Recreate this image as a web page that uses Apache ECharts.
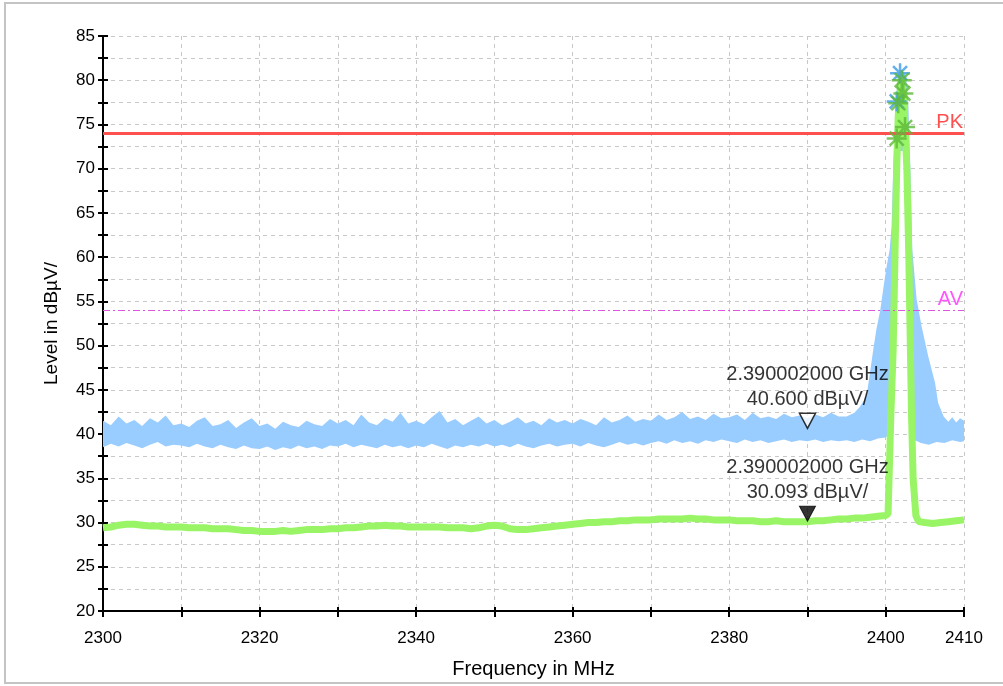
<!DOCTYPE html>
<html>
<head>
<meta charset="utf-8">
<script src="https://cdn.jsdelivr.net/npm/echarts@6/dist/echarts.min.js"></script>
<style>
  html, body { margin: 0; padding: 0; background: #fff; }
  #echart { width: 1003px; height: 686px; }
</style>
</head>
<body>
<div id="echart"></div>
<script>
// frequency grid of the flat part of the sweep, 1 MHz steps 2300..2394
const flatFreq = []
for (let f = 2300; f <= 2394; f++) flatFreq.push(f)

// peak trace (blue): upper / lower edge of the noise band
const flatUpper = [
  41.5, 41.0, 42.0, 41.2, 41.6, 40.9, 41.8, 41.3, 42.1, 41.0,
  41.2, 40.8, 41.5, 41.9, 40.9, 41.1, 41.6, 40.7, 41.3, 41.8,
  40.9, 41.2, 40.6, 41.4, 41.0, 40.8, 41.5, 41.1, 40.9, 41.7,
  41.2, 41.6, 41.0, 42.2, 41.3, 41.0, 41.8, 41.4, 42.4, 41.2,
  41.5, 41.1, 41.9, 42.6, 41.3, 41.7, 41.0, 41.5, 42.0, 41.2,
  41.6, 41.0, 41.4, 41.9, 41.2, 41.5, 41.0, 41.8, 41.3, 41.6,
  41.2, 41.7, 41.4, 41.0, 41.9, 41.3, 41.6, 42.1, 41.4, 41.7,
  41.5, 42.2, 41.6, 41.9, 42.5, 41.7, 42.0, 41.6, 42.3, 41.8,
  41.9, 42.2, 41.6, 42.4, 41.8, 42.0, 41.7, 42.3, 41.9, 42.1,
  41.8, 42.2, 41.9, 42.4, 42.0
]
const flatLower = [
  38.5, 38.9, 38.6, 39.0, 38.7, 38.4, 38.8, 39.1, 38.6, 38.8,
  38.7, 38.5, 38.9, 38.6, 38.4, 38.8, 38.5, 38.3, 38.7, 38.4,
  38.3, 38.6, 38.2, 38.5, 38.3, 38.7, 38.4, 38.6, 38.3, 38.7,
  38.6, 38.9, 38.5, 38.8, 38.6, 38.4, 38.8, 38.5, 38.7, 38.4,
  38.7, 38.5, 38.9, 38.6, 38.3, 38.7, 38.5, 38.8, 38.6, 38.9,
  38.6, 38.8, 38.5, 38.9, 38.6, 38.4, 38.7, 38.9, 38.6, 38.8,
  38.9, 38.6, 39.0, 38.7, 38.5, 38.8, 39.1, 38.8, 39.0, 38.7,
  39.0, 39.2, 38.9, 39.3, 39.0, 39.2, 38.9, 39.3, 39.1, 39.4,
  39.2, 39.0, 39.4, 39.1, 39.3, 39.0, 39.2, 39.4, 39.1, 39.3,
  39.2, 39.4, 39.1, 39.3, 39.2
]
const peakUpperFreq = [2395, 2396, 2396.7, 2397.2, 2397.6, 2398.0, 2398.4, 2398.8, 2399.3, 2399.7,
  2400.1, 2400.5, 2400.75, 2400.95, 2401.25, 2401.55, 2402.0, 2402.6, 2402.9, 2403.15,
  2403.4, 2403.95, 2404.6, 2405.45, 2406.3, 2406.7, 2407.4, 2408, 2408.5, 2409, 2409.5, 2410]
const peakUpper = [42.0, 42.4, 43.1, 43.8, 44.6, 47.0, 49.5, 51.8, 54.0, 56.5,
  58.9, 60.8, 63.5, 70.0, 76.6, 80.8, 81.2, 80.5, 77.0, 70.0,
  60.8, 55.2, 52.1, 48.7, 45.8, 43.5, 42.0, 41.4, 41.9, 41.3, 41.8, 41.5]
const peakLowerFreq = [2395, 2396, 2397, 2398, 2399, 2400, 2400.55, 2400.75, 2401.0, 2401.3,
  2402.8, 2403.05, 2403.3, 2403.5, 2404.5, 2405.5, 2406.5, 2407.5, 2408.5, 2409.5, 2410]
const peakLower = [39.3, 39.1, 39.4, 39.2, 39.5, 39.6, 40.0, 55.0, 66.0, 72.0,
  72.0, 62.0, 45.0, 39.4, 39.0, 38.8, 39.1, 39.0, 39.3, 39.1, 39.2]

// average trace (green)
const flatAvg = [
  29.4, 29.5, 29.7, 29.8, 29.8, 29.7, 29.6, 29.6, 29.5, 29.5,
  29.5, 29.4, 29.4, 29.4, 29.3, 29.3, 29.3, 29.2, 29.1, 29.1,
  29.0, 29.0, 29.0, 29.1, 29.0, 29.1, 29.2, 29.2, 29.2, 29.3,
  29.3, 29.4, 29.4, 29.5, 29.6, 29.6, 29.7, 29.6, 29.6, 29.5,
  29.5, 29.5, 29.5, 29.5, 29.4, 29.4, 29.4, 29.3, 29.4, 29.6,
  29.7, 29.6, 29.3, 29.2, 29.2, 29.3, 29.4, 29.5, 29.6, 29.7,
  29.8, 29.9, 30.0, 30.0, 30.1, 30.1, 30.2, 30.2, 30.3, 30.3,
  30.3, 30.4, 30.4, 30.4, 30.4, 30.5, 30.4, 30.4, 30.3, 30.3,
  30.3, 30.2, 30.2, 30.2, 30.1, 30.1, 30.2, 30.1, 30.1, 30.1,
  30.1, 30.2, 30.2, 30.3, 30.4
]
const peakAvgFreq = [2395, 2396, 2397, 2398, 2399, 2400, 2400.3, 2400.65, 2400.95, 2401.2,
  2401.4, 2401.6, 2401.9, 2402.1, 2402.3, 2402.5, 2402.7, 2402.95, 2403.3, 2403.5,
  2403.85, 2404.2, 2405, 2406, 2407, 2408, 2409, 2410]
const peakAvg = [30.4, 30.5, 30.5, 30.6, 30.7, 30.8, 31.0, 42.0, 49.5, 61.0,
  70.0, 76.0, 79.5, 80.0, 78.0, 74.0, 70.0, 60.0, 42.0, 35.0,
  30.8, 30.1, 30.0, 29.9, 30.0, 30.1, 30.2, 30.3]

// final measurement points (asterisks)
const pkPoints = [[2401.83, 80.8], [2401.4, 77.6]]
const avPoints = [[2402.04, 80.0], [2402.25, 78.5], [2401.6, 77.4], [2402.47, 74.7], [2401.4, 73.4]]

// limit lines
const pkLimit = 74
const avLimit = 54

// markers
const markerFreq = [2390.002, 2390.002]
const markerLevel = [40.6, 30.093]

const yTicks = { min: 20, max: 85, step: 2.5 }
const xTicks = { min: 2300, max: 2410, step: 10 }

const font = 'Liberation Sans, Arial, sans-serif'

const pair = (fs, vs) => fs.map((f, i) => [f, vs[i]])
const upperPts = pair(flatFreq, flatUpper).concat(pair(peakUpperFreq, peakUpper))
const lowerPts = pair(flatFreq, flatLower).concat(pair(peakLowerFreq, peakLower))
const avgPts = pair(flatFreq, flatAvg).concat(pair(peakAvgFreq, peakAvg))

const asterisk = 'path://M10,0L10,20M0,10L20,10M3,3L17,17M3,17L17,3'
const downTri = 'path://M0,0L16,0L8,15Z'

const markerLabel = (f, v) => (f / 1000).toFixed(9) + ' GHz\n' + v.toFixed(3) + ' dBµV/'

let echart = echarts.init(document.getElementById('echart'))

let option = {
  animation: false,
  textStyle: { fontFamily: font },
  graphic: [{
    type: 'rect',
    shape: { x: 5, y: 3, width: 1010, height: 680 },
    style: { fill: 'none', stroke: '#c4c4c4', lineWidth: 2 },
    silent: true
  }],
  grid: { left: 103, right: 39, top: 36, bottom: 75 },
  xAxis: [{
    type: 'value',
    min: xTicks.min, max: xTicks.max, interval: xTicks.step,
    name: 'Frequency in MHz',
    nameLocation: 'middle',
    nameGap: 48,
    nameTextStyle: { fontSize: 20, color: '#000', fontFamily: font },
    axisLine: { lineStyle: { color: '#000', width: 2 } },
    axisTick: { length: 6, lineStyle: { color: '#000', width: 2 } },
    axisLabel: {
      margin: 19, fontSize: 17, color: '#000', fontFamily: font,
      showMaxLabel: true,
      formatter: v => (v % 20 === 0 || v === 2410) ? String(v) : ''
    },
    splitLine: { show: true, lineStyle: { color: '#c8c8c8', type: [4, 4], width: 1 } }
  }, {
    type: 'value',
    position: 'bottom',
    min: xTicks.min, max: xTicks.max, interval: xTicks.step,
    axisLine: { show: false },
    axisTick: { inside: true, length: 4, lineStyle: { color: '#000', width: 2 } },
    axisLabel: { show: false },
    splitLine: { show: false }
  }],
  yAxis: [{
    type: 'value',
    min: yTicks.min, max: yTicks.max, interval: yTicks.step,
    name: 'Level in dBµV/',
    nameLocation: 'middle',
    nameGap: 42,
    nameTextStyle: { fontSize: 19, color: '#000', fontFamily: font },
    axisLine: { show: true, lineStyle: { color: '#000', width: 2 } },
    axisTick: { show: true, length: 5, lineStyle: { color: '#000', width: 2 } },
    axisLabel: {
      margin: 8, fontSize: 17, color: '#000', fontFamily: font,
      formatter: v => v % 5 === 0 ? String(v) : ''
    },
    splitLine: { show: true, lineStyle: { color: '#c8c8c8', type: [4, 4], width: 1 } }
  }, {
    type: 'value',
    position: 'left',
    min: yTicks.min, max: yTicks.max, interval: yTicks.step,
    axisLine: { show: false },
    axisTick: { show: true, inside: true, length: 5, lineStyle: { color: '#000', width: 2 } },
    axisLabel: { show: false },
    splitLine: { show: false }
  }],
  series: [
    {
      // peak trace band
      type: 'custom',
      z: 2,
      silent: true,
      clip: true,
      data: [[2350, 40]],
      renderItem: (params, api) => {
        const pts = upperPts.map(p => api.coord(p))
          .concat(lowerPts.slice().reverse().map(p => api.coord(p)))
        return { type: 'polygon', shape: { points: pts }, style: { fill: '#99ccff' } }
      }
    },
    {
      // average trace
      type: 'line',
      z: 3,
      data: avgPts,
      showSymbol: false,
      lineStyle: { color: '#99f566', width: 7 },
      silent: true,
      markLine: {
        silent: true,
        symbol: 'none',
        data: [
          {
            yAxis: pkLimit,
            lineStyle: { color: '#ff5050', width: 3, type: 'solid' },
            label: { formatter: 'PK', position: 'insideEndTop', distance: 1, color: '#ff5050', fontSize: 20, fontFamily: font }
          },
          {
            yAxis: avLimit,
            lineStyle: { color: '#dd55dd', width: 1, type: [7, 3, 2, 3] },
            label: { formatter: 'AV', position: 'insideEndTop', distance: 1, color: '#ff55ff', fontSize: 20, fontFamily: font }
          }
        ]
      }
    },
    {
      type: 'scatter',
      z: 4,
      data: pkPoints,
      symbol: asterisk,
      symbolSize: 20,
      itemStyle: { color: '#3d9be9', borderColor: '#3d9be9', borderWidth: 2.5 },
      silent: true
    },
    {
      type: 'scatter',
      z: 5,
      data: avPoints,
      symbol: asterisk,
      symbolSize: 20,
      itemStyle: { color: '#5cb83a', borderColor: '#5cb83a', borderWidth: 2.5 },
      silent: true
    },
    {
      type: 'scatter',
      z: 6,
      symbol: downTri,
      symbolSize: [16, 15],
      symbolOffset: [0, -8],
      silent: true,
      data: [
        {
          value: [markerFreq[0], markerLevel[0]],
          itemStyle: { color: '#fff', borderColor: '#000', borderWidth: 1.5 }
        },
        {
          value: [markerFreq[1], markerLevel[1]],
          itemStyle: { color: '#000', borderColor: '#000', borderWidth: 1 }
        }
      ],
      label: {
        show: true,
        position: 'top',
        distance: 1,
        fontSize: 20,
        lineHeight: 25,
        color: '#000',
        fontFamily: font,
        formatter: p => markerLabel(p.value[0], p.value[1])
      }
    }
  ]
}

echart.setOption(option)
</script>
</body>
</html>
